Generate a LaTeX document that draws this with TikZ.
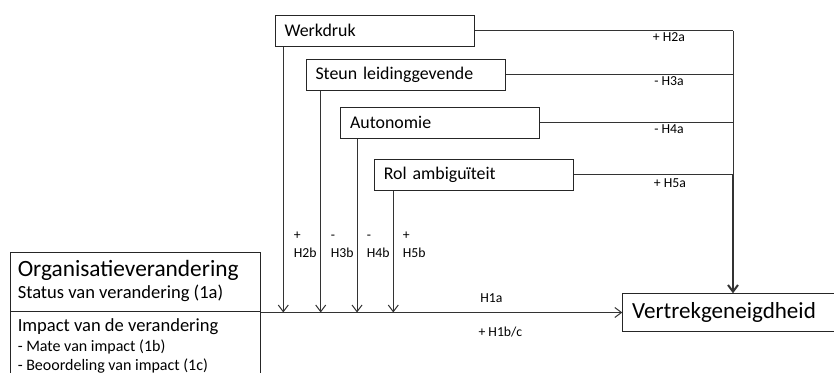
\documentclass[tikz,border=0pt]{standalone}
\usepackage{fontspec}
\setmainfont{Carlito}
\usetikzlibrary{arrows.meta}
\tikzset{
  factor/.style={draw=black!85, line width=0.75pt, anchor=north west, minimum width=149.25pt, minimum height=23.25pt, text width=135.25pt, inner xsep=7pt, inner ysep=0pt, align=left, font=\fontsize{13.4}{16}\selectfont},
  orgbox/.style={draw=black!85, line width=0.75pt, anchor=north west, minimum width=187.5pt, inner sep=0pt},
  textlabel/.style={anchor=base west, inner sep=0pt},
  hlabel/.style={inner sep=0.75pt, font=\fontsize{10.3}{15}\selectfont},
  link/.style={draw=black!80, line width=0.75pt},
  linkarrow/.style={link, -{Straight Barb[length=5pt,width=7.5pt]}},
}
\begin{document}
\begin{tikzpicture}[x=0.75pt,y=0.75pt,yscale=-1,xscale=1]
    \clip (0,0) rectangle (834,373);
    % Factor boxes
    \node[factor] (werk) at (274.7,14.7) {Werkdruk};
    \node[factor] (steun) at (305.7,58.7) {Steun leidinggevende};
    \node[factor] (auto) at (340.3,106.7) {Autonomie};
    \node[factor] (rol) at (374,158.7) {Rol ambiguïteit};
    % Organisatieverandering boxes
    \node[orgbox, minimum height=44.85pt] (orgtop) at (10,251.7) {};
    \node[orgbox, minimum height=60pt] (orgbot) at (10,311.5) {};
    % Text Node
    \node[textlabel, font=\fontsize{17.5}{20}\selectfont] (orgtitle) at (17.5,277) {Organisatieverandering};
    \node[textlabel, font=\fontsize{13.9}{17}\selectfont] (orgstatus) at (17.5,299) {Status van verandering (1a)};
    \node[textlabel, font=\fontsize{13.9}{17}\selectfont] (orgimpact) at (17.5,332) {Impact van de verandering};
    \node[textlabel, font=\fontsize{12}{15}\selectfont] (orgmate) at (17.5,352) {- Mate van impact (1b)};
    \node[textlabel, font=\fontsize{12}{15}\selectfont] (orgoordeel) at (17.5,370) {- Beoordeling van impact (1c)};
    % Outcome box
    \node[draw=black!85, line width=0.75pt, anchor=north west, minimum width=158.4pt, minimum height=28pt, text width=144.4pt, inner xsep=7pt, inner ysep=0pt, align=left, font=\fontsize{17.3}{20}\selectfont] (vert) at (622.3,293.3) {Vertrekgeneigdheid};
    % Junctions on the right
    \coordinate (jwerk) at (733,0 |- werk.east);
    \coordinate (jsteun) at (733,0 |- steun.east);
    \coordinate (jauto) at (733,0 |- auto.east);
    \coordinate (jrol) at (733,0 |- rol.east);
    \coordinate (jvert) at (733,0 |- vert.north);
    % Direct paths to Vertrekgeneigdheid
    \draw[link] (werk.east) -- (jwerk);
    \draw[link] (steun.east) -- (jsteun);
    \draw[link] (auto.east) -- (jauto);
    \draw[link] (rol.east) -- (jrol);
    \draw[link] (jwerk) -- (jrol);
    \draw[linkarrow, line width=1.5pt] (jrol) -- (jvert);
    % Moderating paths
    \draw[linkarrow] (283.3,0 |- werk.south) -- (283.3,0 |- orgtop.south);
    \draw[linkarrow] (320.7,0 |- steun.south) -- (320.7,0 |- orgtop.south);
    \draw[linkarrow] (357,0 |- auto.south) -- (357,0 |- orgtop.south);
    \draw[linkarrow] (393.3,0 |- rol.south) -- (393.3,0 |- orgtop.south);
    % Main path
    \draw[linkarrow] (orgtop.south east) -- (orgtop.south east -| vert.west);
    % Labels
    \node[hlabel] (lh2a) at (669,37.5) {+ H2a};
    \node[hlabel] (lh3a) at (669,81) {- H3a};
    \node[hlabel] (lh4a) at (669,129.5) {- H4a};
    \node[hlabel] (lh5a) at (670,183) {+ H5a};
    \node[hlabel, anchor=base west] (sh2b) at (292.5,239.5) {+};
    \node[hlabel, anchor=base west] (lh2b) at (292.5,257.5) {H2b};
    \node[hlabel, anchor=base west] (sh3b) at (329.5,239.5) {-};
    \node[hlabel, anchor=base west] (lh3b) at (329.5,257.5) {H3b};
    \node[hlabel, anchor=base west] (sh4b) at (365.5,239.5) {-};
    \node[hlabel, anchor=base west] (lh4b) at (365.5,257.5) {H4b};
    \node[hlabel, anchor=base west] (sh5b) at (401.5,239.5) {+};
    \node[hlabel, anchor=base west] (lh5b) at (401.5,257.5) {H5b};
    \node[hlabel] (lh1a) at (491.3,298) {H1a};
    \node[hlabel] (lh1bc) at (500.3,331.7) {+ H1b/c};
\end{tikzpicture}
\end{document}
